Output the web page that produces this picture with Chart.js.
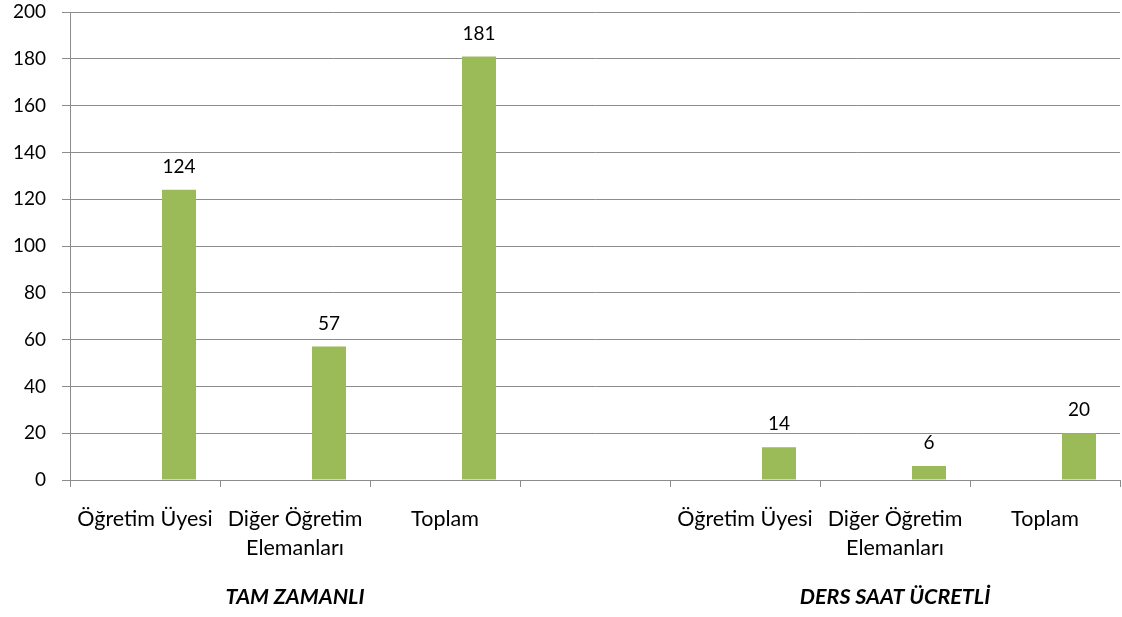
<!DOCTYPE html>
<html>
<head>
<meta charset="utf-8">
<script src="https://cdn.jsdelivr.net/npm/chart.js@4.4.1/dist/chart.umd.min.js"></script>
<style>
  html, body { margin: 0; padding: 0; background: #fff; }
  #wrap { width: 1122px; height: 617px; }
</style>
</head>
<body>
<div id="wrap"><canvas id="chart"></canvas></div>
<script>
// categories (7 slots, 4th is the gap between the two groups)
const categories = [
  'Öğretim Üyesi', ['Diğer Öğretim', 'Elemanları'], 'Toplam', '',
  'Öğretim Üyesi', ['Diğer Öğretim', 'Elemanları'], 'Toplam'
];
const groupLabels = ['', 'TAM ZAMANLI', '', '', '', 'DERS SAAT ÜCRETLİ', ''];
const values = [124, 57, 181, null, 14, 6, 20];
const emptySeries = [null, null, null, null, null, null, null];
const yTicks = [0, 20, 40, 60, 80, 100, 120, 140, 160, 180, 200];

const FONT = 'Lato, "Open Sans", sans-serif';
const GRID = '#8c8c8c';

// draws the number above each bar
const valueLabels = {
  id: 'valueLabels',
  afterDatasetsDraw(chart) {
    const ctx = chart.ctx;
    const meta = chart.getDatasetMeta(2);
    ctx.save();
    ctx.font = '19px ' + FONT;
    ctx.fillStyle = '#000';
    ctx.textAlign = 'center';
    ctx.textBaseline = 'middle';
    meta.data.forEach((bar, i) => {
      const v = values[i];
      if (v === null || v === undefined) return;
      ctx.fillText(String(v), bar.x, bar.y - 23);
    });
    ctx.restore();
  }
};

const ctx = document.getElementById('chart').getContext('2d');

new Chart(ctx, {
  type: 'bar',
  data: {
    labels: categories,
    datasets: [
      { data: emptySeries, backgroundColor: 'transparent' },
      { data: emptySeries, backgroundColor: 'transparent' },
      { data: values, backgroundColor: '#9bbb59', borderWidth: 0 }
    ]
  },
  options: {
    responsive: true,
    maintainAspectRatio: false,
    animation: false,
    categoryPercentage: 0.68,
    barPercentage: 1,
    layout: { padding: { top: 12, right: 2, left: 0, bottom: 0 } },
    plugins: {
      legend: { display: false },
      tooltip: { enabled: false }
    },
    scales: {
      y: {
        min: 0,
        max: 200,
        afterBuildTicks: (scale) => { scale.ticks = yTicks.map(v => ({ value: v })); },
        afterFit: (scale) => {
          scale.width = 70;
          scale.paddingTop = 0;
          scale.paddingBottom = 0;
        },
        grid: { color: GRID, lineWidth: 1, tickLength: 8, tickColor: GRID },
        border: { color: GRID, width: 1 },
        ticks: {
          padding: 16,
          color: '#000',
          font: { family: FONT, size: 19 }
        }
      },
      x: {
        offset: true,
        afterFit: (scale) => { scale.height = 85; },
        grid: {
          offset: true,
          drawOnChartArea: false,
          tickLength: 7,
          color: GRID
        },
        border: { color: GRID, width: 1 },
        ticks: {
          padding: 18,
          color: '#000',
          maxRotation: 0,
          autoSkip: false,
          font: { family: FONT, size: 21.5, lineHeight: 1.35 }
        }
      },
      xg: {
        type: 'category',
        labels: groupLabels,
        position: 'bottom',
        offset: true,
        afterFit: (scale) => { scale.height = 52; },
        grid: { display: false, drawTicks: false },
        border: { display: false },
        ticks: {
          padding: 19,
          color: '#000',
          maxRotation: 0,
          autoSkip: false,
          font: { family: FONT, size: 21.5, style: 'italic', weight: 'bold' }
        }
      }
    }
  },
  plugins: [valueLabels]
});
</script>
</body>
</html>
